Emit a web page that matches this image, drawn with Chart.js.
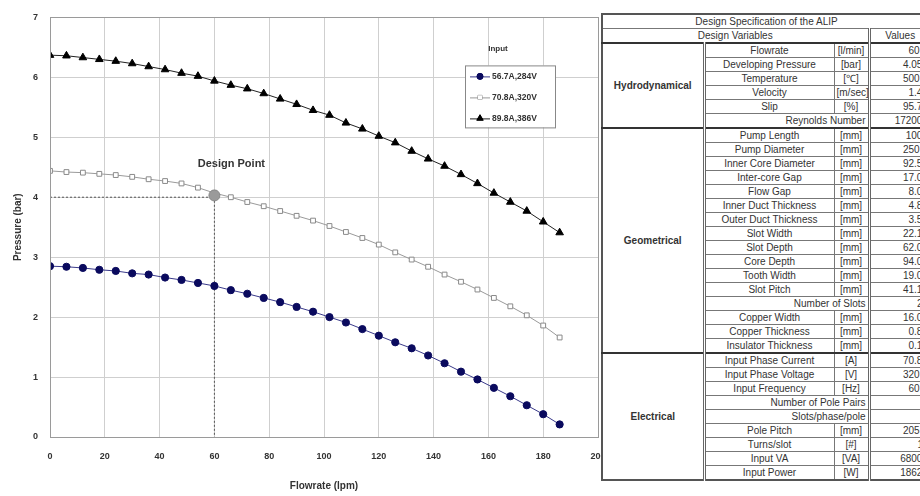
<!DOCTYPE html>
<html>
<head>
<meta charset="utf-8">
<script src="https://cdn.jsdelivr.net/npm/chart.js@4.4.1/dist/chart.umd.min.js"></script>
<style>
  html,body{margin:0;padding:0;background:#fff;}
  body{width:920px;height:496px;overflow:hidden;position:relative;font-family:"Liberation Sans",Arial,sans-serif;}
  #wrap{position:absolute;left:0;top:0;width:625px;height:496px;}
  #spec{position:absolute;left:601px;top:13px;border-collapse:collapse;table-layout:fixed;width:329px;background:#fff;
        border:2px solid #555;font-size:10px;color:#333;}
  #spec td,#spec th{border:1px solid #777;padding:0 2px;height:13px;line-height:12px;white-space:nowrap;overflow:hidden;font-weight:normal;text-align:center;}
  #spec td.cat{font-weight:bold;border-right:3px double #666;}
  #spec td.v{text-align:right;border-left:3px double #666;}
  #spec th.v{border-left:3px double #666;}
  #spec td.span{text-align:right;}
  #spec tr.grp td{border-top:2px solid #333;}
</style>
</head>
<body>
<div id="wrap"><canvas id="c" width="625" height="496"></canvas></div>
<table id="spec">
  <colgroup><col style="width:102px"><col style="width:130px"><col style="width:35px"><col style="width:62px"></colgroup>
  <tbody id="specBody"></tbody>
</table>
<script>
// ---------------- chart data ----------------
const flowrate = [0,6,12,18,24,30,36,42,48,54,60,66,72,78,84,90,96,102,108,114,120,126,132,138,144,150,156,162,168,174,180,186];
const press_56A = [2.85,2.84,2.82,2.79,2.77,2.73,2.71,2.66,2.62,2.57,2.52,2.45,2.39,2.32,2.25,2.17,2.09,2.00,1.91,1.80,1.69,1.58,1.48,1.36,1.23,1.09,0.96,0.82,0.68,0.53,0.38,0.21];
const press_70A = [4.44,4.42,4.41,4.39,4.37,4.34,4.30,4.27,4.23,4.16,4.07,4.00,3.92,3.85,3.77,3.69,3.61,3.52,3.42,3.32,3.21,3.08,2.96,2.84,2.71,2.59,2.46,2.32,2.18,2.03,1.86,1.66];
const press_89A = [6.37,6.36,6.33,6.30,6.27,6.23,6.18,6.13,6.07,6.02,5.94,5.87,5.81,5.73,5.64,5.55,5.45,5.37,5.24,5.14,5.02,4.91,4.77,4.64,4.52,4.38,4.23,4.07,3.92,3.77,3.59,3.41];
const seriesLabels = ['56.7A,284V','70.8A,320V','89.8A,386V'];
const xTicks = [0,20,40,60,80,100,120,140,160,180,200];
const yTicks = [0,1,2,3,4,5,6,7];
const designGuideFlow = [0,60,60];
const designGuidePress = [4,4,0];
const designPointFlow = [60];
const designPointPress = [4.03];
const designLabel = 'Design Point';
const legendTitle = 'Input';

// ---------------- table data ----------------
const specTitle = 'Design Specification of the ALIP';
const specHeader = ['Design Variables','Values'];
const hydroNames  = ['Flowrate','Developing Pressure','Temperature','Velocity','Slip','Reynolds Number'];
const hydroUnits  = ['[l/min]','[bar]','[\u2103]','[m/sec]','[%]',''];
const hydroValues = ['60.0','4.052','500.0','1.45','95.73','172000'];
const geoNames  = ['Pump Length','Pump Diameter','Inner Core Diameter','Inter-core Gap','Flow Gap','Inner Duct Thickness','Outer Duct Thickness','Slot Width','Slot Depth','Core Depth','Tooth Width','Slot Pitch','Number of Slots','Copper Width','Copper Thickness','Insulator Thickness'];
const geoUnits  = ['[mm]','[mm]','[mm]','[mm]','[mm]','[mm]','[mm]','[mm]','[mm]','[mm]','[mm]','[mm]','','[mm]','[mm]','[mm]'];
const geoValues = ['1000','250.0','92.55','17.05','8.05','4.85','3.55','22.15','62.05','94.05','19.05','41.15','24','16.05','0.85','0.15'];
const elecNames  = ['Input Phase Current','Input Phase Voltage','Input Frequency','Number of Pole Pairs','Slots/phase/pole','Pole Pitch','Turns/slot','Input VA','Input Power'];
const elecUnits  = ['[A]','[V]','[Hz]','','','[mm]','[#]','[VA]','[W]'];
const elecValues = ['70.85','320.0','60.0','2','2','205.0','11','68000','18625'];
const groupNames = ['Hydrodynamical','Geometrical','Electrical'];

// build table
(function(){
  const tb = document.getElementById('specBody');
  let h = '<tr><th colspan="4">'+specTitle+'</th></tr>';
  h += '<tr><th colspan="3">'+specHeader[0]+'</th><th class="v">'+specHeader[1]+'</th></tr>';
  const groups = [[hydroNames,hydroUnits,hydroValues],[geoNames,geoUnits,geoValues],[elecNames,elecUnits,elecValues]];
  groups.forEach((g,gi)=>{
    const [n,u,v] = g;
    n.forEach((name,i)=>{
      h += '<tr'+(i===0?' class="grp"':'')+'>';
      if(i===0) h += '<td class="cat" rowspan="'+n.length+'">'+groupNames[gi]+'</td>';
      if(u[i]) h += '<td>'+name+'</td><td>'+u[i]+'</td>';
      else h += '<td class="span" colspan="2">'+name+'</td>';
      h += '<td class="v">'+v[i]+'</td></tr>';
    });
  });
  tb.innerHTML = h;
})();

// ---------------- chart ----------------
const FONT = '"Liberation Sans", Arial, sans-serif';
const pts = (xs, ys) => xs.map((x,i)=>({x:x,y:ys[i]}));

const styles = [
  {color:'#0a0a5e', line:'#3a3a8a', pointStyle:'circle', radius:3.6, fill:'#0a0a5e'},
  {color:'#8a8a8a', line:'#9a9a9a', pointStyle:'rect', radius:3.4, fill:'#ffffff'},
  {color:'#000000', line:'#222222', pointStyle:'triangle', radius:4.4, fill:'#000000'}
];

const plotFrame = {
  id:'plotFrame',
  afterDatasetsDraw(chart){
    const {ctx, chartArea:a} = chart;
    ctx.save();
    ctx.strokeStyle = '#9a9a9a'; ctx.lineWidth = 1;
    ctx.strokeRect(Math.round(a.left)+0.5, Math.round(a.top)+0.5, Math.round(a.right-a.left), Math.round(a.bottom-a.top));
    ctx.restore();
  },
  afterDraw(chart){
    const {ctx, chartArea:a} = chart;
    const xs = chart.scales.x, ys = chart.scales.y;
    ctx.save();
    // design point label
    ctx.font = 'bold 11px '+FONT;
    ctx.fillStyle = '#333';
    ctx.textAlign = 'center'; ctx.textBaseline = 'middle';
    ctx.fillText(designLabel, xs.getPixelForValue(designPointFlow[0]) + 17, ys.getPixelForValue(designPointPress[0]) - 31);
    // legend
    const bx = a.left + 415, by = a.top + 48, bw = 90, bh = 62;
    ctx.font = 'bold 8px '+FONT;
    ctx.fillStyle = '#333';
    ctx.fillText(legendTitle, bx + 33, by - 17);
    ctx.fillStyle = '#fff';
    ctx.fillRect(bx, by, bw, bh);
    ctx.strokeStyle = '#888'; ctx.lineWidth = 1;
    ctx.strokeRect(bx+0.5, by+0.5, bw, bh);
    ctx.font = 'bold 8.5px '+FONT;
    ctx.textAlign = 'left';
    seriesLabels.forEach((lab,i)=>{
      const yy = by + 11 + i*21;
      const s = styles[i];
      ctx.strokeStyle = s.line; ctx.lineWidth = 1;
      ctx.beginPath(); ctx.moveTo(bx+5, yy+0.5); ctx.lineTo(bx+25, yy+0.5); ctx.stroke();
      ctx.fillStyle = s.fill; ctx.strokeStyle = s.color; ctx.lineWidth = 1;
      Chart.helpers.drawPoint(ctx, {pointStyle:s.pointStyle, radius:s.radius*0.85, rotation:0, borderWidth:1}, bx+15, yy);
      ctx.fill && ctx.fill();
      ctx.fillStyle = '#333';
      ctx.fillText(lab, bx+27, yy+0.5);
    });
    ctx.restore();
  }
};

const series = [press_56A, press_70A, press_89A].map((ys,i)=>({
  label: seriesLabels[i],
  data: pts(flowrate, ys),
  borderColor: styles[i].line,
  borderWidth: 1,
  pointStyle: styles[i].pointStyle,
  pointRadius: styles[i].radius,
  pointBackgroundColor: styles[i].fill,
  pointBorderColor: styles[i].color,
  pointBorderWidth: 1,
  tension: 0,
  fill: false,
  order: 2
}));

new Chart(document.getElementById('c'), {
  type: 'line',
  data: {
    datasets: [
      {
        label: 'guide',
        data: pts(designGuideFlow, designGuidePress),
        borderColor: '#555',
        borderWidth: 1,
        borderDash: [2,2],
        pointRadius: 0,
        fill: false,
        order: 5
      },
      ...series,
      {
        label: 'design',
        data: pts(designPointFlow, designPointPress),
        showLine: false,
        pointStyle: 'circle',
        pointRadius: 5.5,
        pointBackgroundColor: '#9a9a9a',
        pointBorderColor: '#888',
        pointBorderWidth: 1,
        order: 0
      }
    ]
  },
  options: {
    responsive: false,
    devicePixelRatio: 1,
    animation: false,
    layout: { padding: { top: 17, left: 0, right: 27, bottom: 0 } },
    plugins: { legend: { display: false }, tooltip: { enabled: false } },
    scales: {
      x: {
        type: 'linear', min: 0, max: 200,
        afterBuildTicks: (s) => { s.ticks = xTicks.map(v=>({value:v})); },
        afterFit: (s) => { s.height = 59; },
        grid: { color: '#cfcfcf', drawTicks: false },
        border: { display: false },
        ticks: { padding: 14, color: '#333', font: { family: FONT, size: 9, weight: 'bold' }, maxRotation: 0 },
        title: { display: true, text: 'Flowrate (lpm)', color: '#333', font: { family: FONT, size: 10, weight: 'bold' }, padding: { top: 0, bottom: 4 } }
      },
      y: {
        type: 'linear', min: 0, max: 7,
        afterBuildTicks: (s) => { s.ticks = yTicks.map(v=>({value:v})); },
        afterFit: (s) => { s.width = 50; },
        grid: { color: '#cfcfcf', drawTicks: false },
        border: { display: false },
        ticks: { padding: 12, color: '#333', font: { family: FONT, size: 9, weight: 'bold' } },
        title: { display: true, text: 'Pressure (bar)', color: '#333', font: { family: FONT, size: 10, weight: 'bold' }, padding: { top: 12, bottom: 0 } }
      }
    }
  },
  plugins: [plotFrame]
});
</script>
</body>
</html>
